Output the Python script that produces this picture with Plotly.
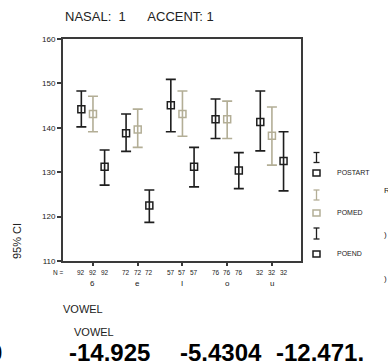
import plotly.graph_objects as go

# ---- data ----
vowels = ["6", "e", "I", "o", "u"]
n_counts = [92, 72, 57, 76, 32]
series_names = ["POSTART", "POMED", "POEND"]
series_colors = ["#1e1e1e", "#b3ae96", "#1e1e1e"]

postart_mean = [144.2, 138.8, 145.1, 141.9, 141.3]
postart_low = [140.2, 134.7, 139.1, 137.6, 134.8]
postart_high = [148.3, 143.1, 150.9, 146.5, 148.3]

pomed_mean = [143.1, 139.6, 143.1, 141.9, 138.2]
pomed_low = [139.1, 135.6, 138.1, 137.6, 131.6]
pomed_high = [147.1, 144.2, 148.3, 146.0, 144.7]

poend_mean = [131.2, 122.5, 131.2, 130.4, 132.5]
poend_low = [127.1, 118.7, 126.7, 126.3, 125.8]
poend_high = [135.0, 126.0, 135.6, 134.4, 139.1]

offsets = [-0.26, 0.0, 0.26]

# ---- layout geometry (pixels) ----
W, H = 388, 361
L, R, T, B = 63, 301, 39, 261
FONT = "Liberation Sans"


def px(x):
    return (x - L) / (R - L)


def py(y):
    return (B - y) / (B - T)


def text_at(x, y, text, size, xanchor="center", yanchor="middle", xref="paper", color="#222", **kw):
    return dict(x=x, y=py(y), xref=xref, yref="paper", text=text, showarrow=False,
                xanchor=xanchor, yanchor=yanchor,
                font=dict(size=size, color=color, family=FONT), **kw)


fig = go.Figure()

series = [
    (postart_mean, postart_low, postart_high),
    (pomed_mean, pomed_low, pomed_high),
    (poend_mean, poend_low, poend_high),
]
for (m, lo, hi), name, col, off in zip(series, series_names, series_colors, offsets):
    xs = [i + off for i in range(len(vowels))]
    fig.add_trace(go.Scatter(
        x=xs, y=m, mode="markers", name=name, showlegend=False,
        marker=dict(symbol="square-open", size=7, color=col, line=dict(width=1.5, color=col)),
        error_y=dict(type="data", symmetric=False,
                     array=[h - v for h, v in zip(hi, m)],
                     arrayminus=[v - l for v, l in zip(m, lo)],
                     color=col, thickness=1.6, width=5),
    ))

annots = []
# N labels
annots.append(text_at(px(58), 272, "N =", 6.5))
for i, n in enumerate(n_counts):
    for off in offsets:
        annots.append(text_at(i + off, 272, str(n), 6.5, xref="x"))
    annots.append(text_at(i, 283, vowels[i], 8, xref="x"))

# titles
sp = "\u00a0"
annots.append(text_at(px(63), 17, "NASAL:" + sp * 2 + "1" + sp * 6 + "ACCENT:" + sp + "1", 13,
                      xanchor="left"))
annots.append(text_at(px(17), 241, "95% CI", 11, textangle=-90))
annots.append(text_at(px(83), 309, "VOWEL", 11))
annots.append(text_at(px(94), 332, "VOWEL", 11))

# legend (manual)
leg_y = [(152.5, 162.5, 173), (190, 200, 213), (228, 239, 254)]
shapes = []
for (y0, y1, ys), name, col in zip(leg_y, series_names, series_colors):
    cx = 316.5
    shapes.append(dict(type="line", xref="paper", yref="paper", x0=px(cx), x1=px(cx),
                       y0=py(y0), y1=py(y1), line=dict(color=col, width=1.3)))
    for yy in (y0, y1):
        shapes.append(dict(type="line", xref="paper", yref="paper", x0=px(cx - 3), x1=px(cx + 3),
                           y0=py(yy), y1=py(yy), line=dict(color=col, width=1.3)))
    shapes.append(dict(type="rect", xref="paper", yref="paper", x0=px(cx - 3.5), x1=px(cx + 3.5),
                       y0=py(ys - 3), y1=py(ys + 3), line=dict(color=col, width=1.5)))
    annots.append(text_at(px(335), ys - 1, name, 7, xanchor="left"))

# clipped stray glyphs on the right edge
for t, yy in (("R", 190.5), (")", 234), (")", 278)):
    annots.append(text_at(px(382), yy, t, 8, xanchor="left"))

# large bold numbers at the bottom (cut off)
big = [("0", 4, "right"), ("-14.925", 109, "center"), ("-5.4304", 221, "center"), ("-12.471.", 320, "center")]
for t, xx, anc in big:
    annots.append(text_at(px(xx), 337, "<b>" + t + "</b>", 24, xanchor=anc, yanchor="top", color="#000"))

fig.update_layout(
    width=W, height=H,
    margin=dict(l=L, r=W - R, t=T, b=H - B),
    paper_bgcolor="white", plot_bgcolor="white",
    showlegend=False,
    annotations=annots,
    shapes=shapes,
    xaxis=dict(range=[-0.67, 4.65], tickvals=list(range(len(vowels))), showticklabels=False,
               ticks="outside", ticklen=3, tickwidth=1.5, tickcolor="#3a3a3a",
               showline=True, linecolor="#3a3a3a", linewidth=2, mirror=True,
               showgrid=False, zeroline=False),
    yaxis=dict(range=[110, 160], tickvals=[110, 120, 130, 140, 150, 160],
               ticks="outside", ticklen=4, tickwidth=1.5, tickcolor="#3a3a3a",
               tickfont=dict(size=8, color="#222", family=FONT),
               showline=True, linecolor="#3a3a3a", linewidth=2, mirror=True,
               showgrid=False, zeroline=False),
)

fig.write_html("out.html")
